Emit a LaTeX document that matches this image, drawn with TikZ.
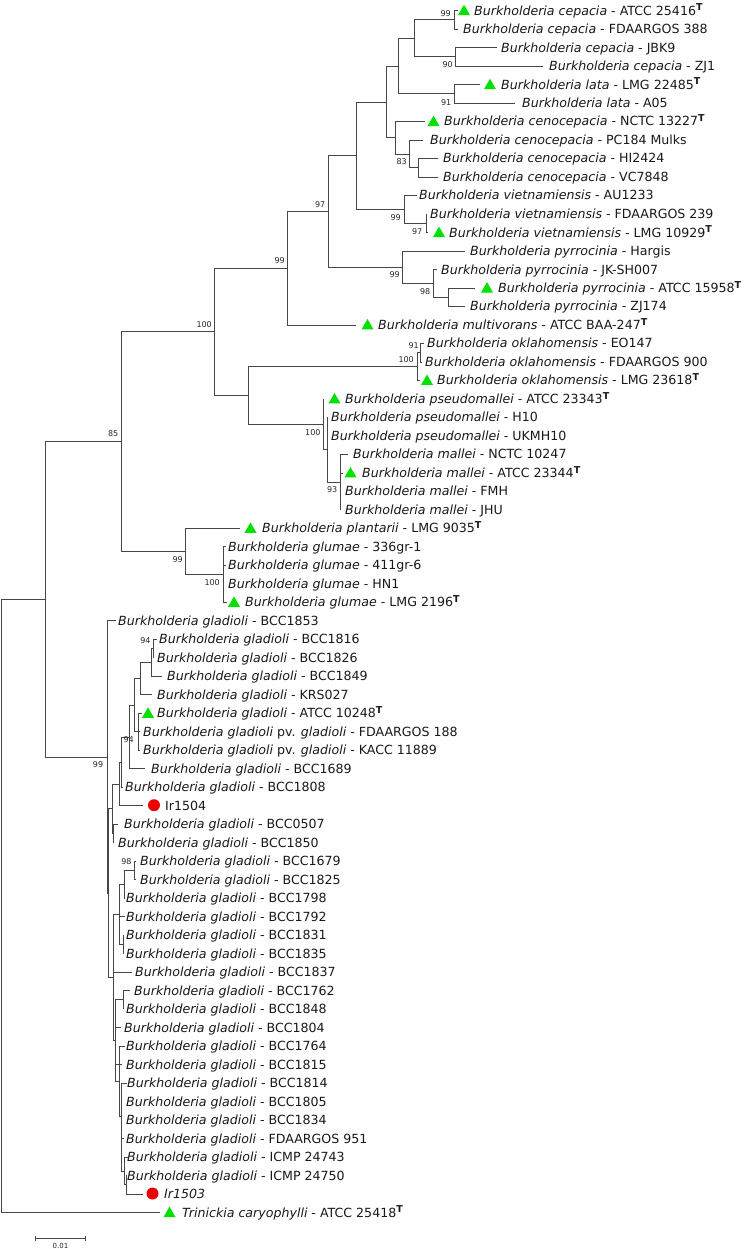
\documentclass[tikz,border=0pt]{standalone}
\usepackage{fontspec}
\setmainfont{DejaVu Sans}
\usetikzlibrary{shapes.geometric}
\definecolor{trigreen}{RGB}{0,225,0}
\definecolor{dotred}{RGB}{235,0,0}
\newcommand\Bk[1]{\textit{Burkholderia #1}}
\newcommand\Gl[1]{\Bk{gladioli} - #1}
\newcommand\Ty{\raisebox{4.2pt}{\fontsize{9.5}{9.5}\selectfont\bfseries T}}
\newcommand\lf[5]{\coordinate (#1) at (#2,#3); \node[lab] (#1t) at (#4,{#3+4.5}) {#5};}
\newcommand\clade[2]{\foreach \c in {#2} {\draw[br] (#1) |- (\c);}}
\begin{document}
\begin{tikzpicture}[x=1pt,y=-1pt,
  br/.style={draw=black!72, line width=0.75pt},
  lab/.style={anchor=base west, inner sep=0pt, font=\fontsize{12.6}{14}\selectfont, text=black!90},
  bs/.style={anchor=east, inner sep=0pt, font=\fontsize{8}{9}\selectfont, text=black!85},
  tri/.style={regular polygon, regular polygon sides=3, minimum size=13.9pt, inner sep=0pt, fill=trigreen, draw=none},
  dot/.style={circle, minimum size=12pt, inner sep=0pt, fill=dotred, draw=none}]
\useasboundingbox (0,0) rectangle (744,1249);
% ---------- leaves ----------
\lf{l1}{458}{10.6}{474}{\Bk{cepacia} - ATCC 25416\Ty}
\lf{l2}{458}{29.1}{463}{\Bk{cepacia} - FDAARGOS 388}
\lf{l3}{497}{47.6}{501}{\Bk{cepacia} - JBK9}
\lf{l4}{543}{66.1}{549}{\Bk{cepacia} - ZJ1}
\lf{l5}{480}{84.6}{501}{\Bk{lata} - LMG 22485\Ty}
\lf{l6}{515}{103.1}{522}{\Bk{lata} - A05}
\lf{l7}{425}{121.5}{444}{\Bk{cenocepacia} - NCTC 13227\Ty}
\lf{l8}{423}{140.0}{430}{\Bk{cenocepacia} - PC184 Mulks}
\lf{l9}{438}{158.5}{443}{\Bk{cenocepacia} - HI2424}
\lf{l10}{438}{177.0}{443}{\Bk{cenocepacia} - VC7848}
\lf{l11}{417}{195.5}{419}{\Bk{vietnamiensis} - AU1233}
\lf{l12}{427}{214.0}{430}{\Bk{vietnamiensis} - FDAARGOS 239}
\lf{l13}{428}{232.5}{449}{\Bk{vietnamiensis} - LMG 10929\Ty}
\lf{l14}{465}{251.0}{470}{\Bk{pyrrocinia} - Hargis}
\lf{l15}{437}{269.5}{441}{\Bk{pyrrocinia} - JK-SH007}
\lf{l16}{475}{288.0}{498}{\Bk{pyrrocinia} - ATCC 15958\Ty}
\lf{l17}{465}{306.4}{470}{\Bk{pyrrocinia} - ZJ174}
\lf{l18}{356}{324.9}{378}{\Bk{multivorans} - ATCC BAA-247\Ty}
\lf{l19}{424}{343.4}{427}{\Bk{oklahomensis} - EO147}
\lf{l20}{422}{361.9}{425}{\Bk{oklahomensis} - FDAARGOS 900}
\lf{l21}{420}{380.4}{437}{\Bk{oklahomensis} - LMG 23618\Ty}
\lf{l22}{324}{398.9}{345}{\Bk{pseudomallei} - ATCC 23343\Ty}
\lf{l23}{327}{417.4}{331}{\Bk{pseudomallei} - H10}
\lf{l24}{327}{435.9}{331}{\Bk{pseudomallei} - UKMH10}
\lf{l25}{348}{454.4}{353}{\Bk{mallei} - NCTC 10247}
\lf{l26}{343}{472.9}{362}{\Bk{mallei} - ATCC 23344\Ty}
\lf{l27}{340}{491.3}{345}{\Bk{mallei} - FMH}
\lf{l28}{340}{509.8}{345}{\Bk{mallei} - JHU}
\lf{l29}{240}{528.3}{262}{\Bk{plantarii} - LMG 9035\Ty}
\lf{l30}{226}{546.8}{228}{\Bk{glumae} - 336gr-1}
\lf{l31}{226}{565.3}{228}{\Bk{glumae} - 411gr-6}
\lf{l32}{224}{583.8}{228}{\Bk{glumae} - HN1}
\lf{l33}{227}{602.3}{245}{\Bk{glumae} - LMG 2196\Ty}
\lf{l34}{116}{620.8}{118}{\Gl{BCC1853}}
\lf{l35}{157}{639.3}{159}{\Gl{BCC1816}}
\lf{l36}{153}{657.8}{157}{\Gl{BCC1826}}
\lf{l37}{162}{676.3}{167}{\Gl{BCC1849}}
\lf{l38}{152}{694.7}{157}{\Gl{KRS027}}
\lf{l39}{142}{713.2}{157}{\Gl{ATCC 10248\Ty}}
\lf{l40}{140}{731.7}{143}{\Bk{gladioli} pv. \textit{gladioli} - FDAARGOS 188}
\lf{l41}{140}{750.2}{143}{\Bk{gladioli} pv. \textit{gladioli} - KACC 11889}
\lf{l42}{145}{768.7}{151}{\Gl{BCC1689}}
\lf{l43}{123}{787.2}{125}{\Gl{BCC1808}}
\lf{l44}{143}{805.7}{165}{Ir1504}
\lf{l45}{118}{824.2}{124}{\Gl{BCC0507}}
\lf{l46}{113}{842.7}{118}{\Gl{BCC1850}}
\lf{l47}{136}{861.2}{140}{\Gl{BCC1679}}
\lf{l48}{136}{879.7}{140}{\Gl{BCC1825}}
\lf{l49}{125}{898.1}{126}{\Gl{BCC1798}}
\lf{l50}{125}{916.6}{126}{\Gl{BCC1792}}
\lf{l51}{124}{935.1}{126}{\Gl{BCC1831}}
\lf{l52}{124}{953.6}{126}{\Gl{BCC1835}}
\lf{l53}{132}{972.1}{135}{\Gl{BCC1837}}
\lf{l54}{130}{990.6}{134}{\Gl{BCC1762}}
\lf{l55}{123}{1009.1}{126}{\Gl{BCC1848}}
\lf{l56}{121}{1027.6}{124}{\Gl{BCC1804}}
\lf{l57}{125}{1046.1}{126}{\Gl{BCC1764}}
\lf{l58}{122}{1064.6}{126}{\Gl{BCC1815}}
\lf{l59}{127}{1083.0}{127}{\Gl{BCC1814}}
\lf{l60}{121}{1101.5}{126}{\Gl{BCC1805}}
\lf{l61}{121}{1120.0}{126}{\Gl{BCC1834}}
\lf{l62}{124}{1138.5}{126}{\Gl{FDAARGOS 951}}
\lf{l63}{128}{1157.0}{127}{\Gl{ICMP 24743}}
\lf{l64}{127}{1175.5}{127}{\Gl{ICMP 24750}}
\lf{l65}{143}{1194.0}{164}{\textit{Ir1503}}
\lf{l66}{160}{1212.5}{182}{\textit{Trinickia caryophylli} - ATCC 25418\Ty}
% ---------- markers ----------
\node[tri] (m1) at (464,11.7) {};
\node[tri] (m5) at (490,85.7) {};
\node[tri] (m7) at (433.5,122.6) {};
\node[tri] (m13) at (439,233.6) {};
\node[tri] (m16) at (487,289.1) {};
\node[tri] (m18) at (367.5,326) {};
\node[tri] (m21) at (427,381.5) {};
\node[tri] (m22) at (334.5,400) {};
\node[tri] (m26) at (350.5,474) {};
\node[tri] (m29) at (250.5,529.4) {};
\node[tri] (m33) at (234,603.4) {};
\node[tri] (m39) at (148,714.3) {};
\node[tri] (m66) at (169.5,1213.6) {};
\node[dot] (m44) at (154,805.2) {};
\node[dot] (m65) at (152.5,1193.5) {};
% ---------- internal nodes ----------
\coordinate (n1) at (454,19.85);
\coordinate (n2) at (455,56.85);
\coordinate (n3) at (414,38.35);
\coordinate (n4) at (454,93.85);
\coordinate (n5) at (398,66.1);
\coordinate (C1) at (418,167.75);
\coordinate (C2) at (409,153.9);
\coordinate (C3) at (395,137.7);
\coordinate (n6) at (386,101.9);
\coordinate (V1) at (426,223.25);
\coordinate (V2) at (404,209.4);
\coordinate (n7) at (356,155.65);
\coordinate (P3) at (448,297.2);
\coordinate (P2) at (433,283.35);
\coordinate (P1) at (402,267.2);
\coordinate (N97) at (328,211.4);
\coordinate (N99) at (287,268.15);
\coordinate (O1) at (420,352.65);
\coordinate (O2) at (417,366.5);
\coordinate (Mn) at (340,482.1);
\coordinate (PM2) at (327,449.75);
\coordinate (PM1) at (323,424.3);
\coordinate (OP) at (248,395.4);
\coordinate (B) at (214,331.8);
\coordinate (Gm) at (223,574.55);
\coordinate (GL) at (185,551.4);
\coordinate (A) at (121,441.6);
\coordinate (X0) at (153,648.55);
\coordinate (X1) at (151,662.4);
\coordinate (X2) at (140,678.55);
\coordinate (X4) at (138,731.7);
\coordinate (X3) at (134,705.1);
\coordinate (X5) at (129,736.9);
\coordinate (K1) at (121,762.05);
\coordinate (K2) at (119,783.9);
\coordinate (Y1) at (113,833.45);
\coordinate (U) at (112,808.7);
\coordinate (Z0) at (134,870.45);
\coordinate (Z1) at (124,884.3);
\coordinate (Z3) at (123,944.35);
\coordinate (Z2) at (119,914.3);
\coordinate (W1) at (123,999.85);
\coordinate (I2) at (126,1184.75);
\coordinate (I1) at (124,1170.9);
\coordinate (T) at (121,1116);
\coordinate (S) at (119,1081);
\coordinate (R2) at (115,1040.3);
\coordinate (Q) at (113,977.15);
\coordinate (H) at (108,892.9);
\coordinate (G) at (107,756.9);
\coordinate (IN) at (45,599.25);
\coordinate (R) at (1,905.9);
% ---------- branches ----------
\clade{n1}{l1,l2}
\clade{n2}{l3,l4}
\clade{n3}{n1,n2}
\clade{n4}{l5,l6}
\clade{n5}{n3,n4}
\clade{C1}{l9,l10}
\clade{C2}{l8,C1}
\clade{C3}{l7,C2}
\clade{n6}{n5,C3}
\clade{V1}{l12,l13}
\clade{V2}{l11,V1}
\clade{n7}{n6,V2}
\clade{P3}{l16,l17}
\clade{P2}{l15,P3}
\clade{P1}{l14,P2}
\clade{N97}{n7,P1}
\clade{N99}{N97,l18}
\clade{O1}{l19,l20}
\clade{O2}{O1,l21}
\clade{Mn}{l25,l26,l27,l28}
\clade{PM2}{l23,l24,Mn}
\clade{PM1}{l22,PM2}
\clade{OP}{O2,PM1}
\clade{B}{N99,OP}
\clade{Gm}{l30,l31,l32,l33}
\clade{GL}{l29,Gm}
\clade{A}{B,GL}
\clade{X0}{l35,l36}
\clade{X1}{X0,l37}
\clade{X2}{X1,l38}
\clade{X4}{l39,l40,l41}
\clade{X3}{X2,X4}
\clade{X5}{X3,l42}
\clade{K1}{X5,l43}
\clade{K2}{K1,l44}
\clade{Y1}{l45,l46}
\clade{U}{K2,Y1}
\clade{Z0}{l47,l48}
\clade{Z1}{Z0,l49}
\clade{Z3}{l51,l52}
\clade{Z2}{Z1,l50,Z3}
\clade{W1}{l54,l55}
\clade{I2}{l64,l65}
\clade{I1}{l63,I2}
\clade{T}{l59,l60,l61,l62,I1}
\clade{S}{l57,T}
\clade{R2}{W1,l56,l58,S}
\clade{Q}{Z2,l53,R2}
\clade{H}{U,Q}
\clade{G}{l34,H}
\clade{IN}{A,G}
\clade{R}{IN,l66}
% ---------- bootstrap values ----------
\node[bs] (b1) at (451,13.7) {99};
\node[bs] (b2) at (453,65) {90};
\node[bs] (b3) at (451.5,103) {91};
\node[bs] (b4) at (407,162) {83};
\node[bs] (b5) at (401,218) {99};
\node[bs] (b6) at (422.5,232) {97};
\node[bs] (b7) at (325.5,205) {97};
\node[bs] (b8) at (285,261) {99};
\node[bs] (b9) at (400,275) {99};
\node[bs] (b10) at (430.5,291.5) {98};
\node[bs] (b11) at (212,325) {100};
\node[bs] (b12) at (419,346) {91};
\node[bs] (b13) at (414,360) {100};
\node[bs] (b14) at (320.7,433) {100};
\node[bs] (b15) at (337.5,490) {93};
\node[bs] (b16) at (118.5,434) {85};
\node[bs] (b17) at (183,560) {99};
\node[bs] (b18) at (220,583) {100};
\node[bs] (b19) at (150.7,640.5) {94};
\node[bs] (b20) at (134,740) {94};
\node[bs] (b21) at (103.3,765) {99};
\node[bs] (b22) at (131.7,862) {98};
% ---------- scale bar ----------
\coordinate (s0) at (35,1238.3);
\coordinate (s1) at (85,1238.3);
\draw[br, line width=0.6pt] (s0) -- (s1);
\draw[br, line width=0.6pt] ([yshift=2.3pt]s0) -- ([yshift=-2.3pt]s0);
\draw[br, line width=0.6pt] ([yshift=2.3pt]s1) -- ([yshift=-2.3pt]s1);
\node[inner sep=0pt, font=\fontsize{7}{8}\selectfont, text=black!85] (sl) at (60.5,1245.5) {0.01};
\end{tikzpicture}
\end{document}
